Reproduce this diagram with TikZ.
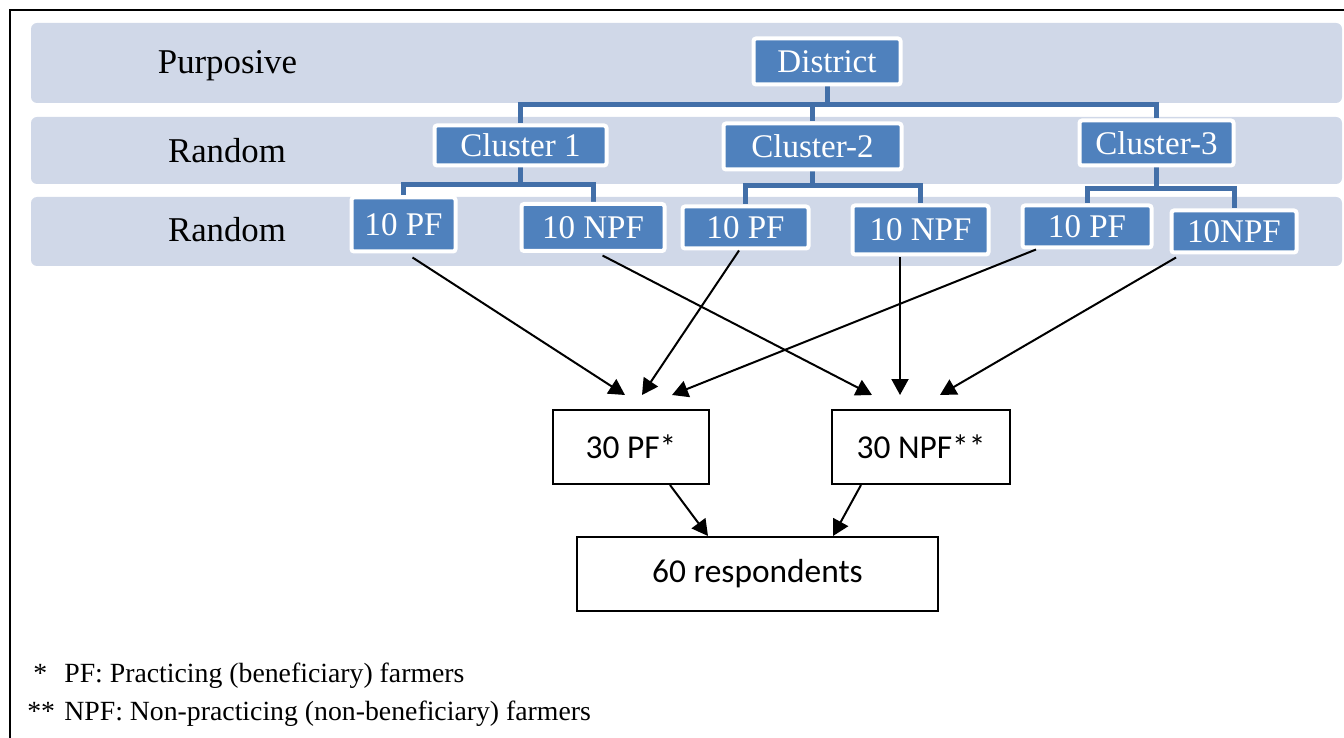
\documentclass[tikz,border=0pt]{standalone}
\usepackage{fontspec}
\setmainfont{Liberation Serif}
\newfontfamily\boxfont{Carlito}
\usepackage{xcolor}
\usetikzlibrary{arrows.meta, positioning}

\definecolor{bandgray}{RGB}{208,216,232}
\definecolor{unitblue}{RGB}{79,129,189}
\definecolor{linkblue}{RGB}{66,111,168}

\pgfdeclarelayer{back}
\pgfdeclarelayer{lines}
\pgfsetlayers{back,lines,main}

\begin{document}
\begin{tikzpicture}[
    band/.style={fill=bandgray, rounded corners=0.12cm},
    level/.style={anchor=base, font=\fontsize{19.8}{22}\selectfont},
    unit/.style={draw=white, line width=0.08cm, fill=unitblue, text=white, rounded corners=0.05cm,
                 inner sep=0pt, font=\fontsize{18.8}{21}\selectfont},
    link/.style={linkblue, line width=0.1cm},
    total/.style={draw, line width=0.04cm, inner sep=0pt, minimum height=1.48cm,
                  font=\boxfont\fontsize{19}{22}\selectfont},
    arr/.style={line width=0.04cm, -{Triangle[length=0.32cm,width=0.34cm]}},
    note/.style={anchor=base west, inner sep=0pt, font=\fontsize{15.8}{18}\selectfont}
]
    \useasboundingbox (0,0) rectangle (26.88,-14.76);

    % frame
    \draw[line width=0.04cm] (0.2,-14.76) -- (0.2,-0.2) -- (26.88,-0.2);

    % sampling levels
    \begin{pgfonlayer}{back}
        \fill[band] (0.62,-0.46) rectangle (26.84,-2.06);
        \fill[band] (0.62,-2.34) rectangle (26.84,-3.68);
        \fill[band] (0.62,-3.94) rectangle (26.84,-5.32);
    \end{pgfonlayer}
    \node[level] (lvl1) at (4.55,-1.48) {Purposive};
    \node[level] (lvl2) at (4.54,-3.26) {Random};
    \node[level] (lvl3) at (4.54,-4.84) {Random};

    % tree of units
    \node[unit, minimum width=2.94cm, minimum height=0.92cm] (district) at (16.54,-1.23) {District};
    \node[unit, minimum width=3.44cm, minimum height=0.80cm] (c1) at (10.41,-2.91) {Cluster 1};
    \node[unit, minimum width=3.56cm, minimum height=0.92cm] (c2) at (16.25,-2.93) {Cluster-2};
    \node[unit, minimum width=3.08cm, minimum height=0.90cm] (c3) at (23.13,-2.86) {Cluster-3};

    \node[unit, minimum width=2.08cm, minimum height=1.08cm] (pf1) at (8.07,-4.49) {10 PF};
    \node[unit, minimum width=2.86cm, minimum height=0.94cm] (npf1) at (11.86,-4.55) {10 NPF};
    \node[unit, minimum width=2.52cm, minimum height=0.84cm] (pf2) at (14.91,-4.55) {10 PF};
    \node[unit, minimum width=2.72cm, minimum height=0.98cm] (npf2) at (18.41,-4.60) {10 NPF};
    \node[unit, minimum width=2.58cm, minimum height=0.84cm] (pf3) at (21.74,-4.53) {10 PF};
    \node[unit, minimum width=2.50cm, minimum height=0.84cm] (npf3) at (24.68,-4.63) {10NPF};

    \begin{pgfonlayer}{lines}
        \draw[link] (district.south) -- ++(0,-0.37) -| (c1.north);
        \draw[link] (district.south) -- ++(0,-0.37) -| (c2.north);
        \draw[link] (district.south) -- ++(0,-0.37) -| (c3.north);
        \draw[link] (c1.south) -- ++(0,-0.35) -| (pf1.north);
        \draw[link] (c1.south) -- ++(0,-0.35) -| (npf1.north);
        \draw[link] (c2.south) -- ++(0,-0.29) -| (pf2.north);
        \draw[link] (c2.south) -- ++(0,-0.29) -| (npf2.north);
        \draw[link] (c3.south) -- ++(0,-0.43) -| (pf3.north);
        \draw[link] (c3.south) -- ++(0,-0.43) -| (npf3.north);
    \end{pgfonlayer}

    % pooled samples
    \node[total, minimum width=3.12cm] (pf) at (12.62,-8.94) {30 PF*};
    \node[total, minimum width=3.56cm] (npf) at (18.42,-8.94) {30 NPF**};
    \node[total, minimum width=7.22cm] (resp) at (15.15,-11.48) {60 respondents};

    \coordinate (pfa) at (12.50,-7.90);
    \coordinate (pfb) at (12.84,-7.90);
    \coordinate (pfc) at (13.44,-7.90);
    \coordinate (npfa) at (17.44,-7.90);
    \coordinate (npfb) at (18.00,-7.90);
    \coordinate (npfc) at (18.80,-7.90);

    \draw[arr] ([xshift=0.18cm,yshift=-0.08cm]pf1.south) -- (pfa);
    \draw[arr] ([xshift=-0.13cm]pf2.south) -- (pfb);
    \draw[arr] ([xshift=-1.02cm]pf3.south) -- (pfc);
    \draw[arr] ([xshift=0.19cm,yshift=-0.05cm]npf1.south) -- (npfa);
    \draw[arr] ([xshift=-0.41cm,yshift=-0.02cm]npf2.south) -- (npfb);
    \draw[arr] ([xshift=-1.16cm,yshift=-0.06cm]npf3.south) -- (npfc);

    \draw[arr] ([xshift=0.78cm]pf.south) -- ([xshift=-0.99cm]resp.north);
    \draw[arr] ([xshift=-1.2cm]npf.south) -- ([xshift=1.51cm]resp.north);

    % footnotes
    \node[note] (fn1) at (0.54,-13.64) {\makebox[0.74cm][l]{\hspace{0.12cm}*}PF: Practicing (beneficiary) farmers};
    \node[note] (fn2) at (0.54,-14.40) {\makebox[0.74cm][l]{**}NPF: Non-practicing (non-beneficiary) farmers};
\end{tikzpicture}
\end{document}
